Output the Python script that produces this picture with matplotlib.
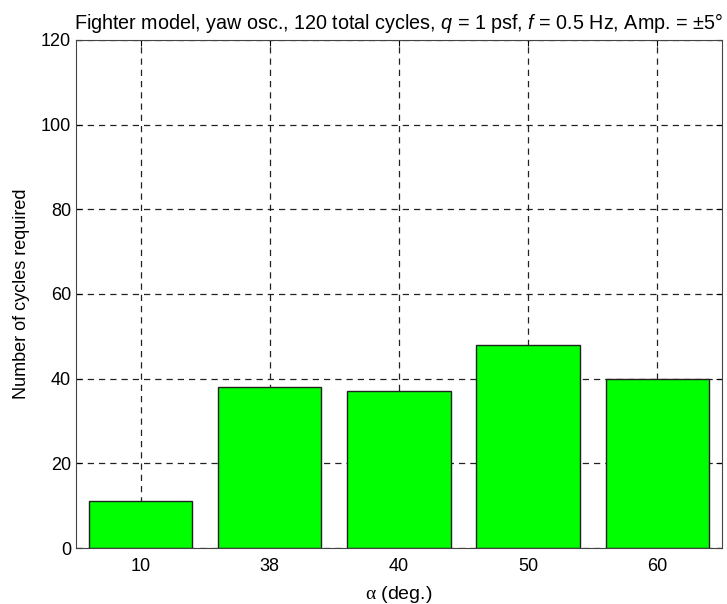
import numpy as np
import matplotlib
matplotlib.use('Agg')
import matplotlib.pyplot as plt

plt.rcParams['font.family'] = ['Liberation Sans', 'DejaVu Sans']
plt.rcParams['mathtext.fontset'] = 'custom'
plt.rcParams['mathtext.rm'] = 'Liberation Sans'
plt.rcParams['mathtext.it'] = 'Liberation Sans:italic'
plt.rcParams['mathtext.bf'] = 'Liberation Serif'  # used for the upright serif alpha

alpha_labels = ['10', '38', '40', '50', '60']
cycles = [11, 38, 37, 48, 40]

fig = plt.figure(figsize=(7.27, 6.04), dpi=100)
ax = fig.add_axes([0.1045, 0.0927, 0.8885, 0.8413])

pos = np.arange(1, len(cycles) + 1)
ax.bar(pos, cycles, width=0.8, color='#00ff00', edgecolor='#222222', linewidth=1.0, zorder=3)

ax.set_xlim(0.5, 5.5)
ax.set_ylim(0, 120)
ax.set_xticks(pos)
ax.set_xticklabels(alpha_labels)
ax.set_yticks(np.arange(0, 121, 20))
ax.tick_params(direction='in', labelsize=13, top=True, right=True, length=4)
ax.tick_params(axis='x', pad=7)
ax.grid(True, linestyle=(0, (5, 4)), color='#222222', linewidth=0.9, zorder=0)
for s in ax.spines.values():
    s.set_color('#444444')
    s.set_zorder(4)

ax.set_xlabel(r'$\mathbf{\alpha}$ (deg.)', fontsize=14, labelpad=7)
ax.set_ylabel('Number of cycles required', fontsize=13, labelpad=8)
ax.set_title('Fighter model, yaw osc., 120 total cycles, $q$ = 1 psf, $f$ = 0.5 Hz, Amp. = \u00b15\u00b0',
             fontsize=14.2, pad=8)

fig.savefig('out.png', dpi=100)
